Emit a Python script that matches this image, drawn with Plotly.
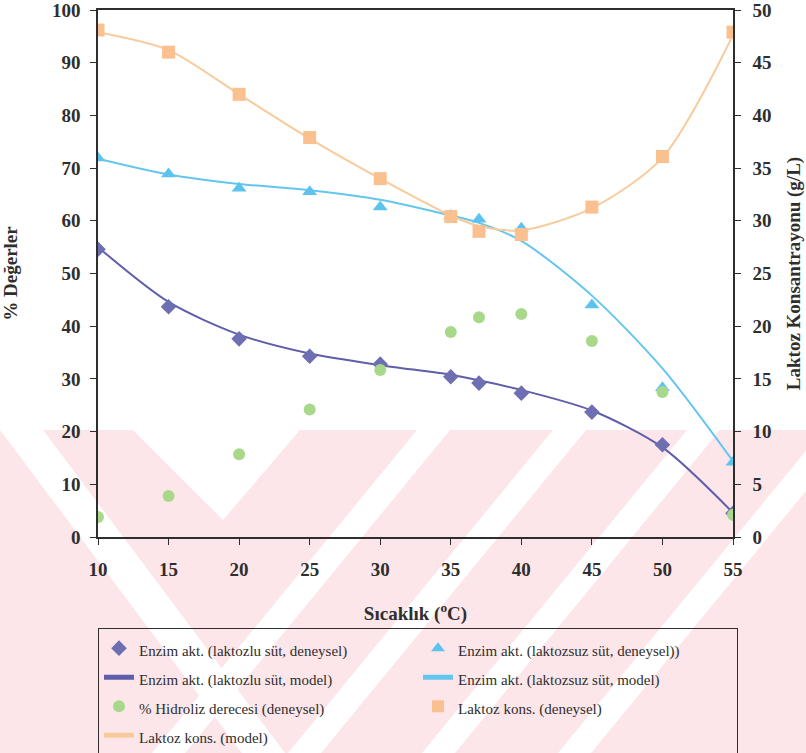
import plotly.graph_objects as go

# Temperature points (°C)
temps = [10, 15, 20, 25, 30, 35, 37, 40, 45, 50, 55]

# Enzyme activity, lactose-containing milk (%)
enzim_laktozlu_deney = [54.6, 43.7, 37.6, 34.3, 32.8, 30.4, 29.2, 27.3, 23.7, 17.5, 4.5]
enzim_laktozlu_model = [55.0, 44.6, 38.4, 34.8, 32.6, 30.8, 29.7, 27.9, 24.0, 17.0, 4.6]

# Enzyme activity, lactose-free milk (%)
enzim_laktozsuz_deney = [71.9, 68.9, 66.2, 65.5, 62.6, 61.0, 60.3, 58.6, 44.0, 28.3, 14.2]
enzim_laktozsuz_model = [71.8, 68.8, 67.0, 65.8, 64.0, 61.0, 59.6, 56.2, 45.8, 32.0, 14.4]

# Degree of hydrolysis (%)
hidroliz_deney = [3.8, 7.8, 15.7, 24.2, 31.7, 38.9, 41.7, 42.3, 37.2, 27.5, 4.2]

# Lactose concentration (g/L), right axis
laktoz_deney = [48.1, 46.0, 42.0, 37.9, 34.0, 30.4, 29.0, 28.7, 31.3, 36.1, 47.9]
laktoz_model = [47.9, 46.2, 42.0, 37.8, 34.0, 30.5, 29.5, 29.1, 31.2, 36.0, 47.6]

x_ticks = [10, 15, 20, 25, 30, 35, 40, 45, 50, 55]

SERIF = "'Liberation Serif', 'Times New Roman', Times, serif"
PURPLE_M = "#6E6EB2"
PURPLE_L = "#5E5EAA"
BLUE_M = "#5CC3EF"
BLUE_L = "#62C6EE"
GREEN = "#A8D98A"
ORANGE_M = "#FBC08F"
ORANGE_L = "#F8CB9D"
INK = "#2E2E2E"
WM_PINK = "#FCE6EA"

W, H = 806, 753
M_L, M_R, M_T, M_B = 98, 73, 10, 216


def entry(label):
    # legend rows are spaced by the legend font; the label itself is set smaller
    return f'<span style="font-size:15px">{label}</span>'


def to_paper(px, py):
    pw, ph = W - M_L - M_R, H - M_T - M_B
    return (px - M_L) / pw, (H - M_B - py) / ph


def poly(points, color):
    pts = [to_paper(x, y) for x, y in points]
    path = "M " + " L ".join(f"{x:.4f},{y:.4f}" for x, y in pts) + " Z"
    return dict(type="path", xref="paper", yref="paper", path=path,
                fillcolor=color, line=dict(width=0), layer="below")


# background watermark: pale band with white diagonal cut-outs
watermark = [poly([(0, 430), (W, 430), (W, H), (0, H)], WM_PINK)]
for a in (417, 553, 687, 823):
    watermark.append(poly([(a, 430), (a + 33, 430), (a - 232, H), (a - 265, H)], "white"))
watermark.append(poly([(0, 430), (43, 430), (285, H), (242, H)], "white"))
watermark.append(poly([(133, 430), (300, 430), (223, 520)], "white"))

fig = go.Figure()

fig.add_trace(go.Scatter(
    x=temps, y=enzim_laktozsuz_model, mode="lines",
    name=entry("Enzim akt. (laktozsuz süt, model)"), legendrank=4,
    line=dict(color=BLUE_L, width=2, shape="spline", smoothing=0.8)))
fig.add_trace(go.Scatter(
    x=temps, y=enzim_laktozsuz_deney, mode="markers",
    name=entry("Enzim akt. (laktozsuz süt, deneysel))"), legendrank=2,
    marker=dict(symbol="triangle-up", size=13, color=BLUE_M)))
fig.add_trace(go.Scatter(
    x=temps, y=enzim_laktozlu_model, mode="lines",
    name=entry("Enzim akt. (laktozlu süt, model)"), legendrank=3,
    line=dict(color=PURPLE_L, width=2, shape="spline", smoothing=0.8)))
fig.add_trace(go.Scatter(
    x=temps, y=enzim_laktozlu_deney, mode="markers",
    name=entry("Enzim akt. (laktozlu süt, deneysel)"), legendrank=1,
    marker=dict(symbol="diamond", size=12, color=PURPLE_M)))
fig.add_trace(go.Scatter(
    x=temps, y=hidroliz_deney, mode="markers",
    name=entry("% Hidroliz derecesi (deneysel)"), legendrank=5,
    marker=dict(symbol="circle", size=12, color=GREEN)))
fig.add_trace(go.Scatter(
    x=temps, y=laktoz_model, mode="lines", yaxis="y2",
    name=entry("Laktoz kons. (model)"), legendrank=7,
    line=dict(color=ORANGE_L, width=2, shape="spline", smoothing=0.8)))
fig.add_trace(go.Scatter(
    x=temps, y=laktoz_deney, mode="markers", yaxis="y2",
    name=entry("Laktoz kons. (deneysel)"), legendrank=6,
    marker=dict(symbol="square", size=13, color=ORANGE_M)))

tickfont = dict(family=SERIF, size=19, color=INK, weight="bold")
titlefont = dict(family=SERIF, size=19, color=INK, weight="bold")

fig.update_layout(
    width=W, height=H,
    margin=dict(l=M_L, r=M_R, t=M_T, b=M_B, autoexpand=False),
    paper_bgcolor="white", plot_bgcolor="rgba(0,0,0,0)",
    showlegend=True,
    shapes=watermark,
    xaxis=dict(
        range=[10, 55], tickvals=x_ticks, ticks="outside", ticklen=6,
        tickcolor=INK, showline=True, linecolor=INK, linewidth=1.5,
        mirror=True, showgrid=False, zeroline=False, tickfont=tickfont,
        ticklabelstandoff=8, automargin=False, ticklabeloverflow="allow",
        title=dict(text="Sıcaklık (<sup>o</sup>C)", font=titlefont, standoff=28)),
    yaxis=dict(
        range=[0, 100], dtick=10, ticks="outside", ticklen=6,
        tickcolor=INK, showline=True, linecolor=INK, linewidth=1.5,
        showgrid=False, zeroline=False, tickfont=tickfont, ticklabelstandoff=6,
        automargin=False, ticklabeloverflow="allow",
        title=dict(text="% Değerler", font=titlefont, standoff=32)),
    yaxis2=dict(
        range=[0, 50], dtick=5, overlaying="y", side="right", ticks="outside",
        ticklen=6, tickcolor=INK, showline=True, linecolor=INK,
        linewidth=1.5, showgrid=False, zeroline=False, tickfont=tickfont,
        ticklabelstandoff=8, automargin=False, ticklabeloverflow="allow",
        title=dict(text="Laktoz Konsantrayonu (g/L)", font=titlefont, standoff=16)),
    legend=dict(
        orientation="h", x=0.0, xanchor="left", y=-0.172, yanchor="top",
        entrywidth=274, bgcolor="rgba(0,0,0,0)", bordercolor=INK,
        borderwidth=1, font=dict(family=SERIF, size=20, color=INK),
        itemsizing="constant", traceorder="normal"),
)

fig.write_html("out.html")
